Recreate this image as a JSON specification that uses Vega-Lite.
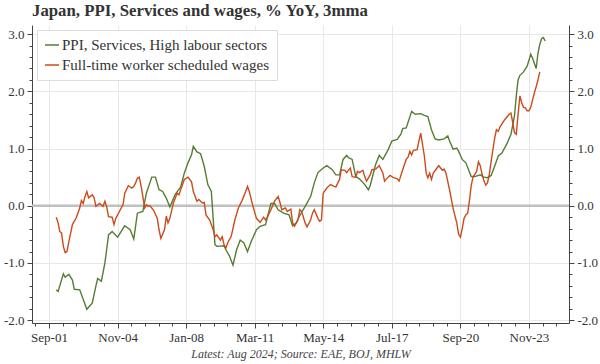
{
  "$schema": "https://vega.github.io/schema/vega-lite/v6.json",
  "width": 537,
  "height": 298,
  "autosize": {"type": "none"},
  "padding": {"left": 32, "top": 25, "right": 31, "bottom": 41},
  "background": "white",
  "config": {"view": {"stroke": null}, "font": "Liberation Serif"},
  "title": {"text": "Japan, PPI, Services and wages, % YoY, 3mma", "anchor": "start", "frame": "group", "font": "Liberation Serif", "fontSize": 16.8, "fontWeight": "bold", "color": "#333333", "offset": 5},
  "layer": [
    {
      "data": {"values": [{}]},
      "mark": {"type": "rule", "color": "#c0c0c0", "strokeWidth": 2.5},
      "encoding": {
        "y": {
          "datum": 0, "type": "quantitative",
          "scale": {"domain": [-2.05, 3.16], "nice": false, "zero": false},
          "axis": {
            "orient": "left", "title": null,
            "values": [-2, -1.8, -1.6, -1.4, -1.2, -1, -0.8, -0.6, -0.4, -0.2, 0, 0.2, 0.4, 0.6, 0.8, 1, 1.2, 1.4, 1.6, 1.8, 2, 2.2, 2.4, 2.6, 2.8, 3],
            "labelExpr": "abs(datum.value - round(datum.value)) < 0.001 ? round(datum.value) + '.0' : ''",
            "tickSize": {"condition": {"test": "abs(datum.value - round(datum.value)) < 0.001", "value": 5}, "value": 3},
            "grid": true,
            "gridOpacity": {"condition": {"test": "abs(datum.value - round(datum.value)) < 0.001", "value": 1}, "value": 0},
            "gridColor": "#e8e8e8",
            "domainColor": "#444444", "tickColor": "#444444",
            "labelFont": "Liberation Serif", "labelFontSize": 13, "labelColor": "#333333", "labelPadding": 3,
            "labelOverlap": false, "labelBound": false, "labelFlush": false
          }
        }
      }
    },
    {
      "data": {
        "values": [
          {"d": "2002-01", "s": "ppi", "v": -1.47},
          {"d": "2002-02", "s": "ppi", "v": -1.50},
          {"d": "2002-05", "s": "ppi", "v": -1.19},
          {"d": "2002-06", "s": "ppi", "v": -1.25},
          {"d": "2002-08", "s": "ppi", "v": -1.20},
          {"d": "2002-10", "s": "ppi", "v": -1.30},
          {"d": "2002-11", "s": "ppi", "v": -1.46},
          {"d": "2003-02", "s": "ppi", "v": -1.47},
          {"d": "2003-06", "s": "ppi", "v": -1.81},
          {"d": "2003-09", "s": "ppi", "v": -1.70},
          {"d": "2003-11", "s": "ppi", "v": -1.40},
          {"d": "2003-12", "s": "ppi", "v": -1.27},
          {"d": "2004-02", "s": "ppi", "v": -1.32},
          {"d": "2004-04", "s": "ppi", "v": -1.00},
          {"d": "2004-06", "s": "ppi", "v": -0.51},
          {"d": "2004-08", "s": "ppi", "v": -0.45},
          {"d": "2004-11", "s": "ppi", "v": -0.55},
          {"d": "2005-03", "s": "ppi", "v": -0.35},
          {"d": "2005-06", "s": "ppi", "v": -0.42},
          {"d": "2005-08", "s": "ppi", "v": -0.58},
          {"d": "2005-10", "s": "ppi", "v": -0.13},
          {"d": "2006-01", "s": "ppi", "v": -0.10},
          {"d": "2006-03", "s": "ppi", "v": 0.22},
          {"d": "2006-06", "s": "ppi", "v": 0.50},
          {"d": "2006-08", "s": "ppi", "v": 0.50},
          {"d": "2006-10", "s": "ppi", "v": 0.28},
          {"d": "2006-12", "s": "ppi", "v": 0.25},
          {"d": "2007-02", "s": "ppi", "v": 0.13},
          {"d": "2007-04", "s": "ppi", "v": -0.02},
          {"d": "2007-05", "s": "ppi", "v": 0.05},
          {"d": "2007-07", "s": "ppi", "v": 0.20},
          {"d": "2007-10", "s": "ppi", "v": 0.33},
          {"d": "2007-12", "s": "ppi", "v": 0.57},
          {"d": "2008-02", "s": "ppi", "v": 0.75},
          {"d": "2008-04", "s": "ppi", "v": 0.89},
          {"d": "2008-05", "s": "ppi", "v": 1.04},
          {"d": "2008-07", "s": "ppi", "v": 0.94},
          {"d": "2008-09", "s": "ppi", "v": 0.91},
          {"d": "2008-11", "s": "ppi", "v": 0.69},
          {"d": "2009-01", "s": "ppi", "v": 0.37},
          {"d": "2009-03", "s": "ppi", "v": 0.25},
          {"d": "2009-05", "s": "ppi", "v": -0.68},
          {"d": "2009-06", "s": "ppi", "v": -0.71},
          {"d": "2009-10", "s": "ppi", "v": -0.70},
          {"d": "2009-11", "s": "ppi", "v": -0.77},
          {"d": "2010-01", "s": "ppi", "v": -0.88},
          {"d": "2010-03", "s": "ppi", "v": -1.04},
          {"d": "2010-05", "s": "ppi", "v": -0.77},
          {"d": "2010-07", "s": "ppi", "v": -0.60},
          {"d": "2010-09", "s": "ppi", "v": -0.65},
          {"d": "2010-11", "s": "ppi", "v": -0.80},
          {"d": "2011-01", "s": "ppi", "v": -0.63},
          {"d": "2011-04", "s": "ppi", "v": -0.42},
          {"d": "2011-06", "s": "ppi", "v": -0.36},
          {"d": "2011-09", "s": "ppi", "v": -0.33},
          {"d": "2011-12", "s": "ppi", "v": 0.04},
          {"d": "2012-02", "s": "ppi", "v": 0.04},
          {"d": "2012-04", "s": "ppi", "v": -0.07},
          {"d": "2012-07", "s": "ppi", "v": -0.13},
          {"d": "2012-10", "s": "ppi", "v": -0.16},
          {"d": "2012-12", "s": "ppi", "v": -0.35},
          {"d": "2013-02", "s": "ppi", "v": -0.30},
          {"d": "2013-04", "s": "ppi", "v": -0.17},
          {"d": "2013-07", "s": "ppi", "v": -0.01},
          {"d": "2013-10", "s": "ppi", "v": 0.16},
          {"d": "2013-12", "s": "ppi", "v": 0.40},
          {"d": "2014-02", "s": "ppi", "v": 0.58},
          {"d": "2014-05", "s": "ppi", "v": 0.66},
          {"d": "2014-07", "s": "ppi", "v": 0.70},
          {"d": "2014-10", "s": "ppi", "v": 0.63},
          {"d": "2014-12", "s": "ppi", "v": 0.54},
          {"d": "2015-02", "s": "ppi", "v": 0.54},
          {"d": "2015-04", "s": "ppi", "v": 0.81},
          {"d": "2015-06", "s": "ppi", "v": 0.88},
          {"d": "2015-07", "s": "ppi", "v": 0.84},
          {"d": "2015-09", "s": "ppi", "v": 0.81},
          {"d": "2015-11", "s": "ppi", "v": 0.51},
          {"d": "2016-01", "s": "ppi", "v": 0.47},
          {"d": "2016-04", "s": "ppi", "v": 0.37},
          {"d": "2016-06", "s": "ppi", "v": 0.28},
          {"d": "2016-07", "s": "ppi", "v": 0.35},
          {"d": "2016-10", "s": "ppi", "v": 0.72},
          {"d": "2016-12", "s": "ppi", "v": 0.88},
          {"d": "2017-02", "s": "ppi", "v": 0.81},
          {"d": "2017-05", "s": "ppi", "v": 0.98},
          {"d": "2017-07", "s": "ppi", "v": 1.13},
          {"d": "2017-10", "s": "ppi", "v": 1.16},
          {"d": "2017-12", "s": "ppi", "v": 1.25},
          {"d": "2018-01", "s": "ppi", "v": 1.35},
          {"d": "2018-03", "s": "ppi", "v": 1.36},
          {"d": "2018-06", "s": "ppi", "v": 1.65},
          {"d": "2018-08", "s": "ppi", "v": 1.60},
          {"d": "2018-11", "s": "ppi", "v": 1.61},
          {"d": "2019-01", "s": "ppi", "v": 1.58},
          {"d": "2019-03", "s": "ppi", "v": 1.56},
          {"d": "2019-05", "s": "ppi", "v": 1.33},
          {"d": "2019-07", "s": "ppi", "v": 1.17},
          {"d": "2019-09", "s": "ppi", "v": 1.15},
          {"d": "2019-12", "s": "ppi", "v": 1.17},
          {"d": "2020-02", "s": "ppi", "v": 1.22},
          {"d": "2020-03", "s": "ppi", "v": 1.13},
          {"d": "2020-05", "s": "ppi", "v": 0.99},
          {"d": "2020-07", "s": "ppi", "v": 1.01},
          {"d": "2020-08", "s": "ppi", "v": 0.95},
          {"d": "2020-10", "s": "ppi", "v": 0.81},
          {"d": "2020-12", "s": "ppi", "v": 0.75},
          {"d": "2021-03", "s": "ppi", "v": 0.51},
          {"d": "2021-05", "s": "ppi", "v": 0.51},
          {"d": "2021-08", "s": "ppi", "v": 0.54},
          {"d": "2021-10", "s": "ppi", "v": 0.50},
          {"d": "2021-12", "s": "ppi", "v": 0.49},
          {"d": "2022-02", "s": "ppi", "v": 0.53},
          {"d": "2022-04", "s": "ppi", "v": 0.69},
          {"d": "2022-06", "s": "ppi", "v": 0.87},
          {"d": "2022-08", "s": "ppi", "v": 0.92},
          {"d": "2022-11", "s": "ppi", "v": 1.10},
          {"d": "2023-01", "s": "ppi", "v": 1.25},
          {"d": "2023-03", "s": "ppi", "v": 1.57},
          {"d": "2023-04", "s": "ppi", "v": 1.92},
          {"d": "2023-05", "s": "ppi", "v": 2.20},
          {"d": "2023-06", "s": "ppi", "v": 2.28},
          {"d": "2023-08", "s": "ppi", "v": 2.34},
          {"d": "2023-10", "s": "ppi", "v": 2.44},
          {"d": "2023-12", "s": "ppi", "v": 2.65},
          {"d": "2024-01", "s": "ppi", "v": 2.58},
          {"d": "2024-03", "s": "ppi", "v": 2.40},
          {"d": "2024-04", "s": "ppi", "v": 2.67},
          {"d": "2024-05", "s": "ppi", "v": 2.82},
          {"d": "2024-06", "s": "ppi", "v": 2.92},
          {"d": "2024-07", "s": "ppi", "v": 2.94},
          {"d": "2024-08", "s": "ppi", "v": 2.88},
          {"d": "2002-01", "s": "wages", "v": -0.20},
          {"d": "2002-02", "s": "wages", "v": -0.30},
          {"d": "2002-03", "s": "wages", "v": -0.45},
          {"d": "2002-04", "s": "wages", "v": -0.48},
          {"d": "2002-05", "s": "wages", "v": -0.71},
          {"d": "2002-06", "s": "wages", "v": -0.82},
          {"d": "2002-07", "s": "wages", "v": -0.80},
          {"d": "2002-08", "s": "wages", "v": -0.63},
          {"d": "2002-10", "s": "wages", "v": -0.33},
          {"d": "2002-12", "s": "wages", "v": -0.22},
          {"d": "2003-02", "s": "wages", "v": -0.04},
          {"d": "2003-03", "s": "wages", "v": 0.09},
          {"d": "2003-04", "s": "wages", "v": 0.04},
          {"d": "2003-05", "s": "wages", "v": 0.16},
          {"d": "2003-06", "s": "wages", "v": 0.25},
          {"d": "2003-07", "s": "wages", "v": 0.14},
          {"d": "2003-09", "s": "wages", "v": 0.19},
          {"d": "2003-10", "s": "wages", "v": 0.14},
          {"d": "2003-11", "s": "wages", "v": -0.01},
          {"d": "2004-01", "s": "wages", "v": 0.04},
          {"d": "2004-03", "s": "wages", "v": -0.01},
          {"d": "2004-04", "s": "wages", "v": 0.08},
          {"d": "2004-05", "s": "wages", "v": -0.02},
          {"d": "2004-06", "s": "wages", "v": -0.19},
          {"d": "2004-08", "s": "wages", "v": -0.20},
          {"d": "2004-09", "s": "wages", "v": -0.33},
          {"d": "2004-10", "s": "wages", "v": -0.22},
          {"d": "2004-12", "s": "wages", "v": -0.10},
          {"d": "2005-02", "s": "wages", "v": 0.02},
          {"d": "2005-03", "s": "wages", "v": 0.22},
          {"d": "2005-05", "s": "wages", "v": 0.35},
          {"d": "2005-07", "s": "wages", "v": 0.31},
          {"d": "2005-08", "s": "wages", "v": 0.34},
          {"d": "2005-09", "s": "wages", "v": 0.40},
          {"d": "2005-10", "s": "wages", "v": 0.48},
          {"d": "2005-11", "s": "wages", "v": 0.50},
          {"d": "2005-12", "s": "wages", "v": 0.35},
          {"d": "2006-01", "s": "wages", "v": 0.16},
          {"d": "2006-02", "s": "wages", "v": -0.04},
          {"d": "2006-03", "s": "wages", "v": 0.02},
          {"d": "2006-04", "s": "wages", "v": -0.01},
          {"d": "2006-05", "s": "wages", "v": 0.00},
          {"d": "2006-07", "s": "wages", "v": -0.08},
          {"d": "2006-09", "s": "wages", "v": -0.22},
          {"d": "2006-10", "s": "wages", "v": -0.42},
          {"d": "2006-11", "s": "wages", "v": -0.57},
          {"d": "2007-01", "s": "wages", "v": -0.42},
          {"d": "2007-02", "s": "wages", "v": -0.18},
          {"d": "2007-03", "s": "wages", "v": -0.30},
          {"d": "2007-04", "s": "wages", "v": -0.22},
          {"d": "2007-06", "s": "wages", "v": 0.05},
          {"d": "2007-08", "s": "wages", "v": 0.22},
          {"d": "2007-09", "s": "wages", "v": 0.19},
          {"d": "2007-11", "s": "wages", "v": 0.37},
          {"d": "2007-12", "s": "wages", "v": 0.46},
          {"d": "2008-02", "s": "wages", "v": 0.50},
          {"d": "2008-04", "s": "wages", "v": 0.42},
          {"d": "2008-05", "s": "wages", "v": 0.25},
          {"d": "2008-07", "s": "wages", "v": 0.08},
          {"d": "2008-08", "s": "wages", "v": 0.11},
          {"d": "2008-10", "s": "wages", "v": 0.05},
          {"d": "2008-11", "s": "wages", "v": 0.06},
          {"d": "2008-12", "s": "wages", "v": -0.16},
          {"d": "2009-02", "s": "wages", "v": -0.25},
          {"d": "2009-04", "s": "wages", "v": -0.42},
          {"d": "2009-05", "s": "wages", "v": -0.54},
          {"d": "2009-06", "s": "wages", "v": -0.51},
          {"d": "2009-08", "s": "wages", "v": -0.60},
          {"d": "2009-09", "s": "wages", "v": -0.54},
          {"d": "2009-10", "s": "wages", "v": -0.68},
          {"d": "2009-11", "s": "wages", "v": -0.74},
          {"d": "2009-12", "s": "wages", "v": -0.65},
          {"d": "2010-02", "s": "wages", "v": -0.53},
          {"d": "2010-04", "s": "wages", "v": -0.25},
          {"d": "2010-06", "s": "wages", "v": -0.04},
          {"d": "2010-08", "s": "wages", "v": 0.09},
          {"d": "2010-10", "s": "wages", "v": 0.25},
          {"d": "2010-11", "s": "wages", "v": 0.34},
          {"d": "2010-12", "s": "wages", "v": 0.25},
          {"d": "2011-02", "s": "wages", "v": -0.01},
          {"d": "2011-04", "s": "wages", "v": -0.22},
          {"d": "2011-06", "s": "wages", "v": -0.29},
          {"d": "2011-08", "s": "wages", "v": -0.20},
          {"d": "2011-09", "s": "wages", "v": -0.25},
          {"d": "2011-10", "s": "wages", "v": -0.20},
          {"d": "2011-12", "s": "wages", "v": -0.07},
          {"d": "2012-02", "s": "wages", "v": 0.08},
          {"d": "2012-04", "s": "wages", "v": 0.16},
          {"d": "2012-05", "s": "wages", "v": 0.06},
          {"d": "2012-06", "s": "wages", "v": -0.07},
          {"d": "2012-08", "s": "wages", "v": -0.04},
          {"d": "2012-09", "s": "wages", "v": -0.10},
          {"d": "2012-11", "s": "wages", "v": -0.06},
          {"d": "2012-12", "s": "wages", "v": -0.30},
          {"d": "2013-01", "s": "wages", "v": -0.36},
          {"d": "2013-03", "s": "wages", "v": -0.25},
          {"d": "2013-04", "s": "wages", "v": -0.07},
          {"d": "2013-05", "s": "wages", "v": -0.10},
          {"d": "2013-07", "s": "wages", "v": -0.30},
          {"d": "2013-08", "s": "wages", "v": -0.37},
          {"d": "2013-10", "s": "wages", "v": -0.25},
          {"d": "2013-11", "s": "wages", "v": -0.13},
          {"d": "2013-12", "s": "wages", "v": -0.07},
          {"d": "2014-02", "s": "wages", "v": -0.22},
          {"d": "2014-03", "s": "wages", "v": -0.27},
          {"d": "2014-04", "s": "wages", "v": -0.25},
          {"d": "2014-05", "s": "wages", "v": 0.22},
          {"d": "2014-07", "s": "wages", "v": 0.31},
          {"d": "2014-09", "s": "wages", "v": 0.37},
          {"d": "2014-11", "s": "wages", "v": 0.34},
          {"d": "2014-12", "s": "wages", "v": 0.33},
          {"d": "2015-02", "s": "wages", "v": 0.46},
          {"d": "2015-03", "s": "wages", "v": 0.63},
          {"d": "2015-05", "s": "wages", "v": 0.62},
          {"d": "2015-06", "s": "wages", "v": 0.58},
          {"d": "2015-08", "s": "wages", "v": 0.66},
          {"d": "2015-09", "s": "wages", "v": 0.51},
          {"d": "2015-11", "s": "wages", "v": 0.50},
          {"d": "2015-12", "s": "wages", "v": 0.60},
          {"d": "2016-01", "s": "wages", "v": 0.58},
          {"d": "2016-03", "s": "wages", "v": 0.62},
          {"d": "2016-04", "s": "wages", "v": 0.51},
          {"d": "2016-05", "s": "wages", "v": 0.43},
          {"d": "2016-07", "s": "wages", "v": 0.54},
          {"d": "2016-08", "s": "wages", "v": 0.63},
          {"d": "2016-10", "s": "wages", "v": 0.64},
          {"d": "2016-12", "s": "wages", "v": 0.70},
          {"d": "2017-02", "s": "wages", "v": 0.57},
          {"d": "2017-03", "s": "wages", "v": 0.43},
          {"d": "2017-04", "s": "wages", "v": 0.47},
          {"d": "2017-06", "s": "wages", "v": 0.53},
          {"d": "2017-08", "s": "wages", "v": 0.49},
          {"d": "2017-10", "s": "wages", "v": 0.47},
          {"d": "2017-11", "s": "wages", "v": 0.43},
          {"d": "2018-01", "s": "wages", "v": 0.63},
          {"d": "2018-03", "s": "wages", "v": 0.81},
          {"d": "2018-04", "s": "wages", "v": 0.85},
          {"d": "2018-05", "s": "wages", "v": 0.95},
          {"d": "2018-06", "s": "wages", "v": 0.89},
          {"d": "2018-07", "s": "wages", "v": 0.97},
          {"d": "2018-09", "s": "wages", "v": 0.98},
          {"d": "2018-10", "s": "wages", "v": 1.13},
          {"d": "2018-11", "s": "wages", "v": 1.27},
          {"d": "2019-01", "s": "wages", "v": 0.87},
          {"d": "2019-02", "s": "wages", "v": 0.57},
          {"d": "2019-03", "s": "wages", "v": 0.49},
          {"d": "2019-04", "s": "wages", "v": 0.57},
          {"d": "2019-05", "s": "wages", "v": 0.46},
          {"d": "2019-06", "s": "wages", "v": 0.57},
          {"d": "2019-08", "s": "wages", "v": 0.66},
          {"d": "2019-09", "s": "wages", "v": 0.70},
          {"d": "2019-11", "s": "wages", "v": 0.62},
          {"d": "2019-12", "s": "wages", "v": 0.64},
          {"d": "2020-01", "s": "wages", "v": 0.57},
          {"d": "2020-03", "s": "wages", "v": 0.28},
          {"d": "2020-05", "s": "wages", "v": -0.05},
          {"d": "2020-07", "s": "wages", "v": -0.30},
          {"d": "2020-08", "s": "wages", "v": -0.50},
          {"d": "2020-09", "s": "wages", "v": -0.55},
          {"d": "2020-10", "s": "wages", "v": -0.40},
          {"d": "2020-11", "s": "wages", "v": -0.22},
          {"d": "2020-12", "s": "wages", "v": -0.16},
          {"d": "2021-01", "s": "wages", "v": -0.13},
          {"d": "2021-02", "s": "wages", "v": 0.10},
          {"d": "2021-03", "s": "wages", "v": 0.35},
          {"d": "2021-04", "s": "wages", "v": 0.50},
          {"d": "2021-05", "s": "wages", "v": 0.55},
          {"d": "2021-06", "s": "wages", "v": 0.60},
          {"d": "2021-07", "s": "wages", "v": 0.77},
          {"d": "2021-08", "s": "wages", "v": 0.70},
          {"d": "2021-09", "s": "wages", "v": 0.55},
          {"d": "2021-10", "s": "wages", "v": 0.44},
          {"d": "2021-11", "s": "wages", "v": 0.36},
          {"d": "2021-12", "s": "wages", "v": 0.40},
          {"d": "2022-01", "s": "wages", "v": 0.55},
          {"d": "2022-02", "s": "wages", "v": 0.78},
          {"d": "2022-03", "s": "wages", "v": 0.97},
          {"d": "2022-04", "s": "wages", "v": 1.18},
          {"d": "2022-05", "s": "wages", "v": 1.33},
          {"d": "2022-06", "s": "wages", "v": 1.30},
          {"d": "2022-07", "s": "wages", "v": 1.38},
          {"d": "2022-08", "s": "wages", "v": 1.43},
          {"d": "2022-09", "s": "wages", "v": 1.48},
          {"d": "2022-10", "s": "wages", "v": 1.52},
          {"d": "2022-11", "s": "wages", "v": 1.56},
          {"d": "2022-12", "s": "wages", "v": 1.60},
          {"d": "2023-01", "s": "wages", "v": 1.62},
          {"d": "2023-02", "s": "wages", "v": 1.45},
          {"d": "2023-03", "s": "wages", "v": 1.28},
          {"d": "2023-04", "s": "wages", "v": 1.25},
          {"d": "2023-05", "s": "wages", "v": 1.60},
          {"d": "2023-06", "s": "wages", "v": 1.92},
          {"d": "2023-07", "s": "wages", "v": 1.80},
          {"d": "2023-08", "s": "wages", "v": 1.72},
          {"d": "2023-09", "s": "wages", "v": 1.71},
          {"d": "2023-10", "s": "wages", "v": 1.66},
          {"d": "2023-11", "s": "wages", "v": 1.66},
          {"d": "2023-12", "s": "wages", "v": 1.72},
          {"d": "2024-01", "s": "wages", "v": 1.85},
          {"d": "2024-02", "s": "wages", "v": 1.98},
          {"d": "2024-03", "s": "wages", "v": 2.08},
          {"d": "2024-04", "s": "wages", "v": 2.20},
          {"d": "2024-05", "s": "wages", "v": 2.34}
        ],
        "format": {"parse": {"d": "date:'%Y-%m'"}}
      },
      "mark": {"type": "line", "strokeWidth": 1.4},
      "encoding": {
        "x": {
          "field": "d", "type": "temporal",
          "scale": {"domain": [{"year": 2000, "month": 11, "date": 18}, {"year": 2025, "month": 9, "date": 6}]},
          "axis": {
            "values": [
              {"year": 2001, "month": 1, "date": 13},
              {"year": 2001, "month": 9, "date": 1},
              {"year": 2002, "month": 4, "date": 19},
              {"year": 2002, "month": 12, "date": 7},
              {"year": 2003, "month": 7, "date": 25},
              {"year": 2004, "month": 3, "date": 13},
              {"year": 2004, "month": 11, "date": 1},
              {"year": 2005, "month": 6, "date": 19},
              {"year": 2006, "month": 2, "date": 7},
              {"year": 2006, "month": 9, "date": 25},
              {"year": 2007, "month": 5, "date": 13},
              {"year": 2008, "month": 1, "date": 1},
              {"year": 2008, "month": 8, "date": 19},
              {"year": 2009, "month": 4, "date": 7},
              {"year": 2009, "month": 11, "date": 25},
              {"year": 2010, "month": 7, "date": 13},
              {"year": 2011, "month": 3, "date": 1},
              {"year": 2011, "month": 10, "date": 19},
              {"year": 2012, "month": 6, "date": 7},
              {"year": 2013, "month": 1, "date": 25},
              {"year": 2013, "month": 9, "date": 13},
              {"year": 2014, "month": 5, "date": 1},
              {"year": 2014, "month": 12, "date": 19},
              {"year": 2015, "month": 8, "date": 7},
              {"year": 2016, "month": 3, "date": 25},
              {"year": 2016, "month": 11, "date": 13},
              {"year": 2017, "month": 7, "date": 1},
              {"year": 2018, "month": 2, "date": 19},
              {"year": 2018, "month": 10, "date": 7},
              {"year": 2019, "month": 5, "date": 25},
              {"year": 2020, "month": 1, "date": 13},
              {"year": 2020, "month": 9, "date": 1},
              {"year": 2021, "month": 4, "date": 19},
              {"year": 2021, "month": 12, "date": 7},
              {"year": 2022, "month": 7, "date": 25},
              {"year": 2023, "month": 3, "date": 13},
              {"year": 2023, "month": 11, "date": 1},
              {"year": 2024, "month": 6, "date": 19},
              {"year": 2025, "month": 2, "date": 7}
            ],
            "labelExpr": "date(datum.value) == 1 ? timeFormat(datum.value, '%b-%y') : ''",
            "tickSize": {"condition": {"test": "date(datum.value) == 1", "value": 5}, "value": 3},
            "grid": true,
            "gridOpacity": {"condition": {"test": "date(datum.value) == 1", "value": 1}, "value": 0},
            "gridColor": "#e8e8e8",
            "domainColor": "#444444", "tickColor": "#444444",
            "labelFont": "Liberation Serif", "labelFontSize": 13, "labelColor": "#333333", "labelPadding": 3,
            "labelOverlap": false, "labelBound": false, "labelFlush": false,
            "title": "Latest: Aug 2024; Source: EAE, BOJ, MHLW",
            "titleFont": "Liberation Serif", "titleFontSize": 12, "titleFontStyle": "italic", "titleFontWeight": "normal",
            "titleColor": "#444444", "titlePadding": 4
          }
        },
        "y": {
          "field": "v", "type": "quantitative",
          "scale": {"domain": [-2.05, 3.16], "nice": false, "zero": false},
          "axis": {
            "orient": "right", "title": null,
            "values": [-2, -1.8, -1.6, -1.4, -1.2, -1, -0.8, -0.6, -0.4, -0.2, 0, 0.2, 0.4, 0.6, 0.8, 1, 1.2, 1.4, 1.6, 1.8, 2, 2.2, 2.4, 2.6, 2.8, 3],
            "labelExpr": "abs(datum.value - round(datum.value)) < 0.001 ? round(datum.value) + '.0' : ''",
            "tickSize": {"condition": {"test": "abs(datum.value - round(datum.value)) < 0.001", "value": 5}, "value": 3},
            "grid": false,
            "domainColor": "#444444", "tickColor": "#444444",
            "labelFont": "Liberation Serif", "labelFontSize": 13, "labelColor": "#333333", "labelPadding": 3,
            "labelOverlap": false, "labelBound": false, "labelFlush": false
          }
        },
        "color": {
          "field": "s", "type": "nominal",
          "scale": {"domain": ["ppi", "wages"], "range": ["#567d34", "#cc4b1c"]},
          "legend": {
            "orient": "none", "legendX": 5, "legendY": 5, "title": null,
            "symbolType": "stroke", "symbolSize": 196, "symbolStrokeWidth": 1.5,
            "labelFont": "Liberation Serif", "labelFontSize": 15, "labelColor": "#333333", "labelLimit": 400, "labelOffset": 2,
            "labelExpr": "datum.label == 'ppi' ? 'PPI, Services, High labour sectors' : 'Full-time worker scheduled wages'",
            "fillColor": "white", "strokeColor": "#dddddd", "padding": 7, "rowPadding": 4
          }
        }
      }
    }
  ],
  "resolve": {"scale": {"y": "independent"}}
}
